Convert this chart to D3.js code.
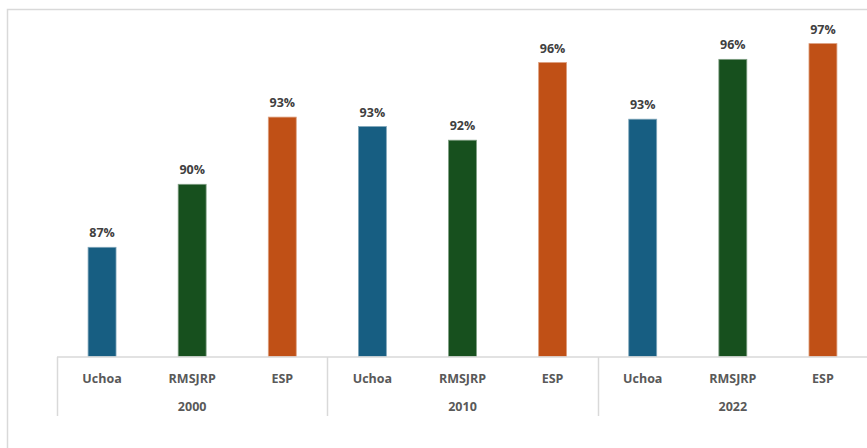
<!DOCTYPE html>
<html>
<head>
<meta charset="utf-8">
<script src="https://cdn.jsdelivr.net/npm/d3@7"></script>
<style>
  html, body { margin: 0; padding: 0; background: #fff; }
  svg { display: block; }
  text { font-family: "Open Sans", "Noto Sans", sans-serif; font-weight: bold; }
</style>
</head>
<body>
<svg id="chart" width="867" height="448"></svg>
<script>
// ---- data ----
const years = ["2000", "2010", "2022"];
const regions = ["Uchoa", "RMSJRP", "ESP"];
const values2000 = [87.2, 90.2, 93.4];
const values2010 = [92.95, 92.3, 96.0];
const values2022 = [93.3, 96.15, 96.9];
const valueLabels2000 = ["87%", "90%", "93%"];
const valueLabels2010 = ["93%", "92%", "96%"];
const valueLabels2022 = ["93%", "96%", "97%"];
const colors = ["#175e82", "#17501e", "#c05016"];

const allValues = [values2000, values2010, values2022];
const allLabels = [valueLabels2000, valueLabels2010, valueLabels2022];
const rows = [];
years.forEach((yr, i) => {
  regions.forEach((r, j) => {
    rows.push({ key: yr + "|" + r, year: yr, region: r, value: allValues[i][j], label: allLabels[i][j], color: colors[j] });
  });
});

const svg = d3.select("#chart");

// chart frame
svg.append("rect")
  .attr("x", 7.5).attr("y", 9.5)
  .attr("width", 900).attr("height", 500)
  .attr("fill", "none").attr("stroke", "#d9d9d9").attr("stroke-width", 1.5);

const x = d3.scaleBand()
  .domain(rows.map(d => d.key))
  .range([57, 868])
  .paddingInner(0.69)
  .paddingOuter(0.345);

const y = d3.scaleLinear().domain([82, 98]).range([356.5, 20.5]);

// bars
svg.append("g").selectAll("rect")
  .data(rows).join("rect")
  .attr("x", d => x(d.key))
  .attr("y", d => y(d.value))
  .attr("width", x.bandwidth())
  .attr("height", d => y(82) - y(d.value))
  .attr("fill", d => d.color)
  .attr("stroke", d => d3.interpolateRgb(d.color, "#ffffff")(0.45))
  .attr("stroke-width", 0.8);

// value labels
svg.append("g").selectAll("text")
  .data(rows).join("text")
  .attr("x", d => x(d.key) + x.bandwidth() / 2)
  .attr("y", d => y(d.value) - 10)
  .attr("text-anchor", "middle")
  .attr("font-size", 12.5)
  .attr("fill", "#404040")
  .text(d => d.label);

// category axis
const axis = d3.axisBottom(x).tickSize(0).tickPadding(0).tickFormat(k => k.split("|")[1]);
const gAxis = svg.append("g").attr("transform", "translate(0,357)").call(axis);
gAxis.select(".domain").remove();
gAxis.selectAll("text")
  .attr("dy", 0)
  .attr("y", 26)
  .attr("font-size", 12.5)
  .attr("font-family", "'Open Sans', 'Noto Sans', sans-serif")
  .attr("font-weight", "bold")
  .attr("fill", "#595959");

// axis line
svg.append("line")
  .attr("x1", 57).attr("x2", 868)
  .attr("y1", 357).attr("y2", 357)
  .attr("stroke", "#d9d9d9").attr("stroke-width", 1.5);

// group separators & labels
const step = x.step();
years.forEach((yr, i) => {
  const gx = 57 + i * 3 * step;
  svg.append("line")
    .attr("x1", Math.round(gx) + 0.5).attr("x2", Math.round(gx) + 0.5)
    .attr("y1", 357).attr("y2", 416)
    .attr("stroke", "#d9d9d9").attr("stroke-width", 1.5);
  svg.append("text")
    .attr("x", x(yr + "|" + regions[1]) + x.bandwidth() / 2)
    .attr("y", 411)
    .attr("text-anchor", "middle")
    .attr("font-size", 12.5)
    .attr("fill", "#595959")
    .text(yr);
});
</script>
</body>
</html>
